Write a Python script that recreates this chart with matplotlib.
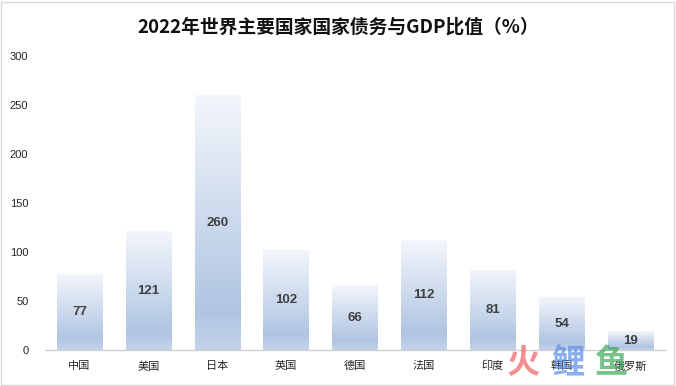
#!/usr/bin/env python
"""
Bar chart: national debt to GDP ratio of major countries in 2022.
"""

import matplotlib.pyplot as plt
import numpy as np
from matplotlib.colors import LinearSegmentedColormap
from matplotlib.patches import Rectangle

plt.rcParams["font.family"] = ["Noto Sans CJK SC", "DejaVu Sans"]

countries = ["中国", "美国", "日本", "英国", "德国", "法国", "印度", "韩国", "俄罗斯"]
ratios = [77, 121, 260, 102, 66, 112, 81, 54, 19]
yTicks = [0, 50, 100, 150, 200, 250, 300]
title = "2022年世界主要国家国家债务与GDP比值（%）"

barWidth = 0.66
textColor = "#404040"

# gradient: light at top, deeper blue near bottom, slightly lighter at base
cmap = LinearSegmentedColormap.from_list(
    "bar", [(0.0, "#c3d3ea"), (0.15, "#b0c5e2"), (1.0, "#f3f6fb")])
grad = np.linspace(0, 1, 256).reshape(-1, 1)

fig = plt.figure(figsize=(6.76, 3.86), dpi=100)
ax = fig.add_axes([0.0666, 0.0933, 0.9174, 0.7617])

x = np.arange(len(countries))
bars = ax.bar(x, ratios, width=barWidth, color="none", edgecolor="none")
for bar, val in zip(bars, ratios):
    x0 = bar.get_x()
    ax.imshow(grad, cmap=cmap, origin="lower", aspect="auto",
              extent=[x0, x0 + barWidth, 0, val], zorder=2)
    ax.text(bar.get_x() + barWidth / 2, val / 2, str(val),
            ha="center", va="center", fontsize=9.5, fontweight="bold",
            color=textColor, family="Liberation Sans", zorder=3)

ax.set_xlim(-0.5, len(countries) - 0.5)
ax.set_ylim(0, 300)
ax.set_yticks(yTicks)
ax.set_xticks(x)
ax.set_xticklabels(countries)
ax.tick_params(axis="both", length=0, labelsize=8, colors="#262626")
ax.tick_params(axis="y", pad=12)
ax.tick_params(axis="x", pad=8)
for label in ax.get_yticklabels():
    label.set_family("Liberation Sans")
    label.set_fontsize(8)

for side in ["top", "right", "left"]:
    ax.spines[side].set_visible(False)
ax.spines["bottom"].set_color("#d0d0d0")
ax.spines["bottom"].set_linewidth(1)

fig.text(0.5, 0.93, title, ha="center", va="center",
         fontsize=13.5, fontweight="bold", color="#111111")

# watermark
fig.text(0.775, 0.058, "火", ha="center", va="center", fontsize=24,
         fontweight="bold", color="#f06060", alpha=0.7)
fig.text(0.84, 0.058, "鲤", ha="center", va="center", fontsize=24,
         fontweight="bold", color="#5b8ee6", alpha=0.7)
fig.text(0.905, 0.058, "鱼", ha="center", va="center", fontsize=24,
         fontweight="bold", color="#3aa85a", alpha=0.7)

# figure border
fig.patches.append(Rectangle((0.002, 0.003), 0.995, 0.993, transform=fig.transFigure,
                             fill=False, edgecolor="#d9d9d9", linewidth=1))

fig.savefig("out.png", dpi=100, facecolor="white")
